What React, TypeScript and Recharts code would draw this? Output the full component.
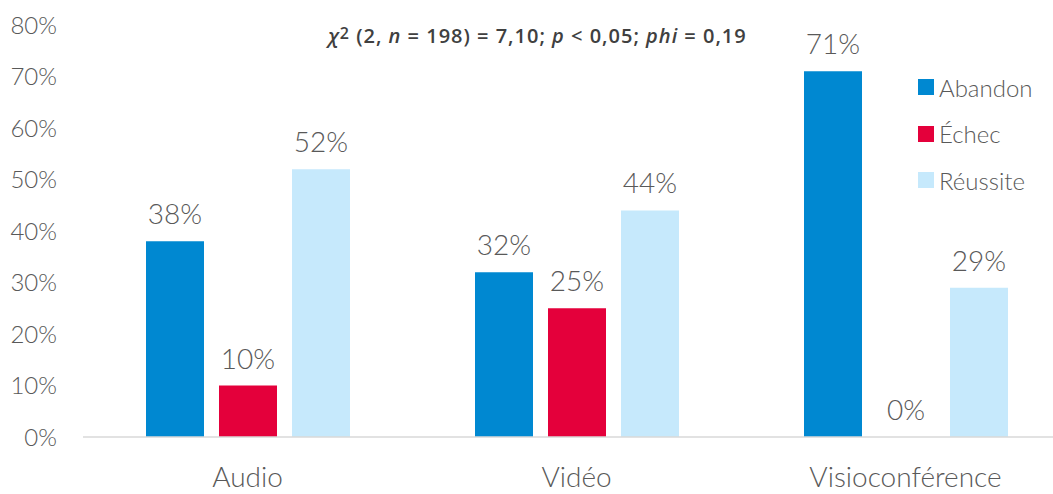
import React from "react";
import { BarChart, Bar, XAxis, YAxis, LabelList } from "recharts";

const categories = ["Audio", "Vidéo", "Visioconférence"];
const abandon = [38, 32, 71];
const echec = [10, 25, 0];
const reussite = [52, 44, 29];
const yTicks = [0, 10, 20, 30, 40, 50, 60, 70, 80];
const seriesNames = ["Abandon", "Échec", "Réussite"];
const seriesKeys = ["abandon", "echec", "reussite"];
const seriesColors = ["#0088D1", "#E4003B", "#C6E9FC"];

const data = categories.map((c, i) => ({
  name: c,
  abandon: abandon[i],
  echec: echec[i],
  reussite: reussite[i],
}));

const FONT = "Lato, 'Open Sans', sans-serif";
const TEXT = "#595959";

export default function App() {
  return (
    <div style={{ position: "absolute", left: 0, top: 0, width: 1053, height: 494, overflow: "hidden", background: "#fff" }}>
      <BarChart
        width={1080}
        height={494}
        data={data}
        margin={{ top: 25, right: 10, bottom: 0, left: 0 }}
        barGap={15}
        barSize={58}
      >
        <XAxis
          dataKey="name"
          height={57}
          tickLine={false}
          tickSize={0}
          tickMargin={30}
          axisLine={{ stroke: "#D9D9D9", strokeWidth: 1.5 }}
          tick={{ fill: TEXT, fontSize: 28, fontFamily: FONT, fontWeight: 300 }}
        />
        <YAxis
          width={83}
          domain={[0, 80]}
          ticks={yTicks}
          interval={0}
          axisLine={false}
          tickLine={false}
          tickSize={0}
          tickMargin={26}
          tickFormatter={(v) => `${v}%`}
          tick={{ fill: TEXT, fontSize: 24, fontFamily: FONT, fontWeight: 300 }}
        />
        {seriesKeys.map((k, i) => (
          <Bar key={k} dataKey={k} name={seriesNames[i]} fill={seriesColors[i]} minPointSize={0.01} isAnimationActive={false}>
            <LabelList
              dataKey={k}
              position="top"
              offset={17}
              formatter={(v) => `${v}%`}
              style={{ fill: TEXT, fontSize: 28, fontFamily: FONT, fontWeight: 300 }}
            />
          </Bar>
        ))}
      </BarChart>
      <div style={{ position: "absolute", left: 918, top: 64, fontFamily: FONT, fontWeight: 300, fontSize: 24, color: TEXT }}>
        {seriesNames.map((n, i) => (
          <div key={n} style={{ display: "flex", alignItems: "center", height: 46.5 }}>
            <span style={{ width: 16, height: 16, background: seriesColors[i], display: "inline-block", marginRight: 5 }} />
            <span>{n}</span>
          </div>
        ))}
      </div>
      <div
        style={{
          position: "absolute",
          left: 0,
          width: 1075,
          top: 22,
          textAlign: "center",
          fontFamily: "'Open Sans', sans-serif",
          fontWeight: 600,
          fontSize: 20,
          letterSpacing: 1,
          color: "#404040",
        }}
      >
        <i>χ</i><span style={{ fontSize: 16, verticalAlign: 4 }}>2</span> (2, <i>n</i> = 198) = 7,10; <i>p</i> &lt; 0,05; <i>phi</i> = 0,19
      </div>
    </div>
  );
}
